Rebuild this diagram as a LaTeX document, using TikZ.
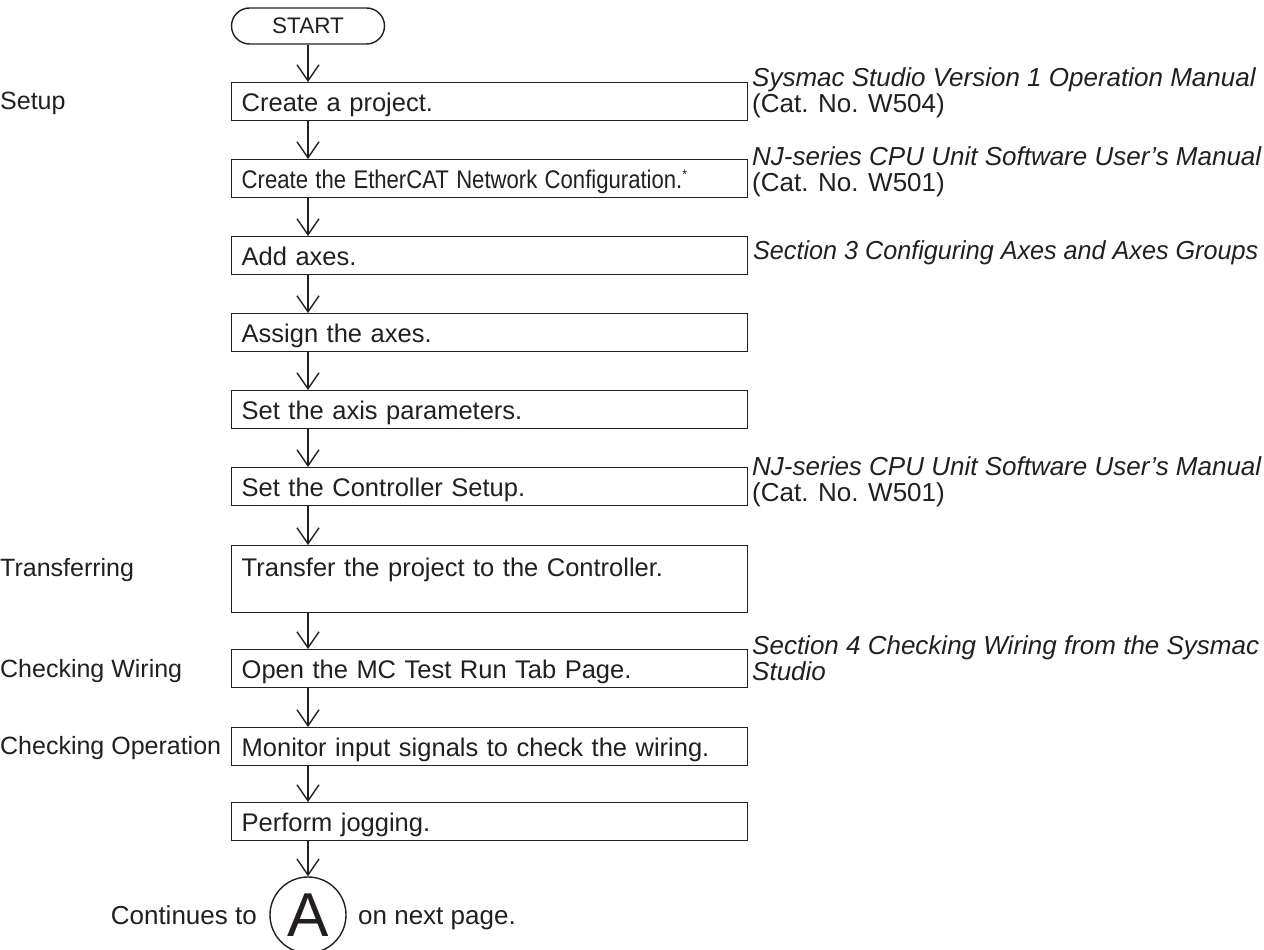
\documentclass[tikz,border=0pt]{standalone}
\usepackage{fontspec}
\setmainfont{Liberation Sans}
\usetikzlibrary{arrows.meta,shapes.misc}
\definecolor{ink}{RGB}{35,31,32}
\begin{document}
\begin{tikzpicture}[x=1pt,y=-1pt,
  every node/.style={text=ink},
  txt/.style={font=\fontsize{26}{26}\selectfont},
  boxtxt/.style={font=\fontsize{25.5}{26}\selectfont},
  stepbox/.style={draw=ink,line width=1.4pt,boxtxt,anchor=north west,
    minimum width=516pt,minimum height=38pt,text width=496pt,
    inner xsep=10pt,inner ysep=0pt,align=left,
    text height=22pt,text depth=3pt},
  terminal/.style={draw=ink,line width=1.4pt,font=\fontsize{22.5}{24}\selectfont,
    rounded rectangle,minimum width=153pt,minimum height=36pt,inner sep=0pt},
  note/.style={txt,anchor=north west,inner sep=0pt,align=left},
  phase/.style={font=\fontsize{25}{26}\selectfont,anchor=base west,inner sep=0pt},
  flow/.style={draw=ink,line width=1.4pt,-{Straight Barb[length=16pt,width=22pt]}}]
\useasboundingbox (0,0) rectangle (1264,950);

% vertical line of the flow
\coordinate (axis) at (308,0);

% start terminal
\node[terminal] (start) at (308,26) {START};

% process steps
\node[stepbox] (b1) at (231,82) {Create a project.};
\node[stepbox] (b2) at (231,159) {\scalebox{0.867}[1]{Create the EtherCAT Network Configuration.\textsuperscript{\fontsize{14}{14}\selectfont *}}};
\node[stepbox] (b3) at (231,236) {Add axes.};
\node[stepbox] (b4) at (231,313) {Assign the axes.};
\node[stepbox] (b5) at (231,390) {Set the axis parameters.};
\node[stepbox] (b6) at (231,467) {Set the Controller Setup.};
\node[stepbox,minimum height=67pt,text depth=27pt] (b7) at (231,545) {Transfer the project to the Controller.};
\node[stepbox] (b8) at (231,649) {Open the MC Test Run Tab Page.};
\node[stepbox] (b9) at (231,727) {Monitor input signals to check the wiring.};
\node[stepbox] (b10) at (231,802) {Perform jogging.};

% connector to the next page
\node[draw=ink,line width=1.4pt,circle,minimum size=76pt,inner sep=0pt,
  font=\fontsize{62}{62}\selectfont] (conA) at (308,915) {A};
\node[txt,anchor=base east,inner sep=0pt] (cont) at (257,924) {Continues to};
\node[txt,anchor=base west,inner sep=0pt] (next) at (358,924) {on next page.};

% connectors
\draw[flow] (start.south -| axis) -- (b1.north -| axis);
\draw[flow] (b1.south -| axis) -- (b2.north -| axis);
\draw[flow] (b2.south -| axis) -- (b3.north -| axis);
\draw[flow] (b3.south -| axis) -- (b4.north -| axis);
\draw[flow] (b4.south -| axis) -- (b5.north -| axis);
\draw[flow] (b5.south -| axis) -- (b6.north -| axis);
\draw[flow] (b6.south -| axis) -- (b7.north -| axis);
\draw[flow] (b7.south -| axis) -- (b8.north -| axis);
\draw[flow] (b8.south -| axis) -- (b9.north -| axis);
\draw[flow] (b9.south -| axis) -- (b10.north -| axis);
\draw[flow] (b10.south -| axis) -- (conA.north);

% phase labels
\node[phase] (p1) at (0,110) {Setup};
\node[phase] (p2) at (0,576) {Transferring};
\node[phase] (p3) at (0,677) {Checking Wiring};
\node[phase] (p4) at (0,754) {Checking Operation};

% references
\node[note] (r1) at (752,67) {\textit{Sysmac Studio Version 1 Operation Manual}\\(Cat. No. W504)};
\node[note] (r2) at (752,146) {\textit{NJ-series CPU Unit Software User's Manual}\\(Cat. No. W501)};
\node[note] (r3) at (753,240) {\scalebox{0.968}[1]{\textit{Section 3 Configuring Axes and Axes Groups}}};
\node[note] (r4) at (752,456) {\textit{NJ-series CPU Unit Software User's Manual}\\(Cat. No. W501)};
\node[note] (r5) at (752,635) {\textit{Section 4 Checking Wiring from the Sysmac}\\\textit{Studio}};
\end{tikzpicture}
\end{document}
